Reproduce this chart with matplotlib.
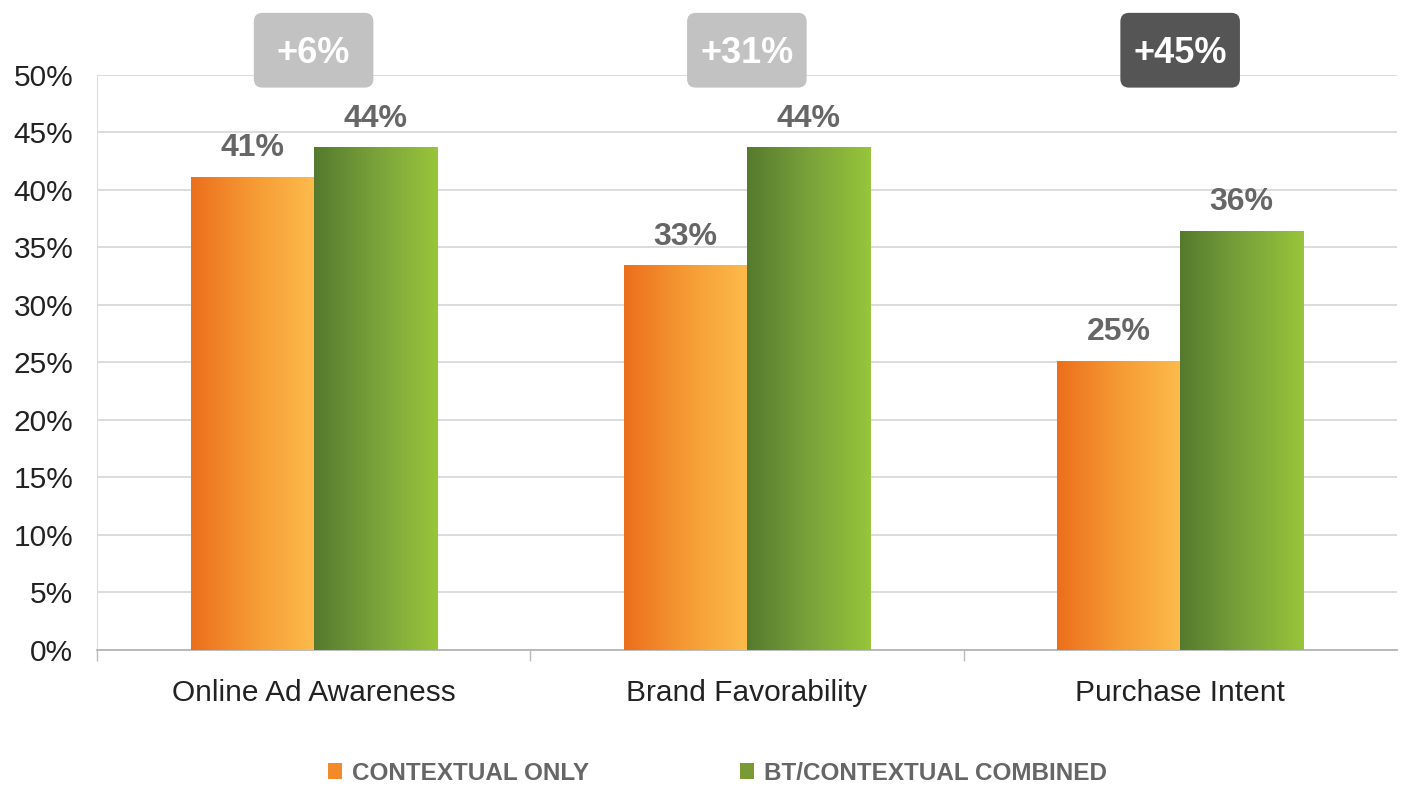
import numpy as np
import matplotlib
matplotlib.use("Agg")
import matplotlib.pyplot as plt
from matplotlib.patches import FancyBboxPatch, Patch
from matplotlib.colors import LinearSegmentedColormap

plt.rcParams["font.family"] = ["Liberation Sans", "DejaVu Sans"]

categories = ["Online Ad Awareness", "Brand Favorability", "Purchase Intent"]
contextual_only = [41.1, 33.4, 25.1]
bt_combined = [43.7, 43.7, 36.4]
lift_labels = ["+6%", "+31%", "+45%"]
lift_dark = [False, False, True]
series_names = ["CONTEXTUAL ONLY", "BT/CONTEXTUAL COMBINED"]
yticks = np.arange(0, 51, 5)

orange_cmap = LinearSegmentedColormap.from_list("orange", ["#ec6f1c", "#f59a34", "#fdbb4c"])
green_cmap = LinearSegmentedColormap.from_list("green", ["#557a2e", "#79a23a", "#98c53b"])

fig = plt.figure(figsize=(14.01, 7.89), dpi=100)
ax = fig.add_axes([0.0692, 0.1762, 0.9278, 0.7288])

x = np.arange(len(categories))
w = 0.284
bars_o = ax.bar(x - w / 2, contextual_only, w, color="none", zorder=3)
bars_g = ax.bar(x + w / 2, bt_combined, w, color="none", zorder=3)

# left-to-right gradient fill inside each bar
grad = np.linspace(0, 1, 256).reshape(1, -1)
for bars, cmap in [(bars_o, orange_cmap), (bars_g, green_cmap)]:
    for b in bars:
        x0, y0 = b.get_x(), b.get_y()
        ax.imshow(grad, cmap=cmap, aspect="auto", zorder=3,
                  extent=(x0, x0 + b.get_width(), y0, y0 + b.get_height()))
        ax.annotate("%d%%" % round(b.get_height()), (x0 + b.get_width() / 2, b.get_height()),
                    xytext=(0, 10), textcoords="offset points", ha="center", va="bottom",
                    fontsize=23, fontweight="bold", color="#666666", zorder=4)

# lift badges above each group
for xi, lab, dark in zip(x, lift_labels, lift_dark):
    face = "#555555" if dark else "#c2c2c2"
    box = FancyBboxPatch((xi - 0.138, 48.9), 0.276, 6.5,
                         boxstyle="round,pad=0,rounding_size=0.02", mutation_aspect=38,
                         facecolor=face, edgecolor="none", clip_on=False, zorder=5)
    ax.add_patch(box)
    ax.text(xi, 51.9, lab, ha="center", va="center", fontsize=26, fontweight="bold",
            color="white", zorder=6, clip_on=False)

ax.set_xlim(-0.5, 2.5)
ax.set_ylim(0, 50)
ax.set_yticks(yticks)
ax.set_yticklabels(["%d%%" % v for v in yticks])
ax.set_xticks(x)
ax.set_xticklabels(categories)
ax.set_xticks([-0.5, 0.5, 1.5], minor=True)
ax.tick_params(axis="x", which="major", length=0, pad=21, labelsize=21.5, labelcolor="#222222")
ax.tick_params(axis="x", which="minor", length=8, color="#bbbbbb", width=1)
ax.tick_params(axis="y", length=0, pad=17, labelsize=21.5, labelcolor="#222222")

ax.grid(axis="y", color="#d9d9d9", linewidth=1.3, zorder=0)
ax.set_axisbelow(True)
for s in ["top", "right"]:
    ax.spines[s].set_visible(False)
ax.spines["left"].set_color("#dddddd")
ax.spines["bottom"].set_color("#b5b5b5")
ax.spines["bottom"].set_linewidth(1.3)

handles = [Patch(facecolor="#f28a2a", edgecolor="none"), Patch(facecolor="#7a9a35", edgecolor="none")]
leg = fig.legend(handles, series_names, loc="center", bbox_to_anchor=(0.512, 0.02), ncol=2,
                 frameon=False, handlelength=0.6, handleheight=0.6, handletextpad=0.4,
                 columnspacing=6.2, prop={"weight": "bold", "size": 17.5})
for t in leg.get_texts():
    t.set_color("#666666")

fig.savefig("out.png", dpi=100)
